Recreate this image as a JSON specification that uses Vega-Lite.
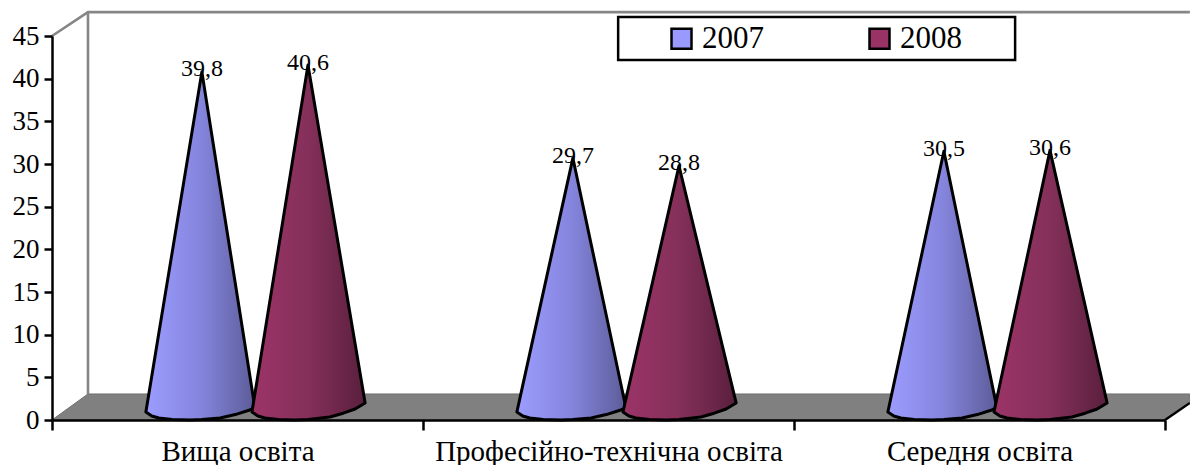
{
"$schema":"https://vega.github.io/schema/vega-lite/v6.json",
"width":1113,"height":384,
"autosize":{"type":"none"},
"padding":{"left":52,"top":36,"right":25,"bottom":45},
"background":"white",
"config":{"view":{"stroke":null},"font":"Liberation Serif"},
"datasets":{
"values":[
{"category":"Вища освіта","year":"2007","pos":0.404,"value":39.8},
{"category":"Вища освіта","year":"2008","pos":0.690,"value":40.6},
{"category":"Професійно-технічна освіта","year":"2007","pos":1.404,"value":29.7},
{"category":"Професійно-технічна освіта","year":"2008","pos":1.690,"value":28.8},
{"category":"Середня освіта","year":"2007","pos":2.404,"value":30.5},
{"category":"Середня освіта","year":"2008","pos":2.690,"value":30.6}
],
"blue":[
{"c":"a","p":0.253,"t":-0.06,"b":-0.06},{"c":"a","p":0.269,"t":4.17,"b":-0.52},{"c":"a","p":0.288,"t":9.19,"b":-0.76},{"c":"a","p":0.324,"t":18.67,"b":-0.93},{"c":"a","p":0.372,"t":31.35,"b":-1.0},{"c":"a","p":0.404,"t":39.8,"b":-0.95},{"c":"a","p":0.453,"t":26.29,"b":-0.76},{"c":"a","p":0.494,"t":15.02,"b":-0.36},{"c":"a","p":0.533,"t":4.27,"b":0.18},{"c":"a","p":0.547,"t":0.41,"b":0.41},
{"c":"b","p":1.253,"t":-0.06,"b":-0.06},{"c":"b","p":1.269,"t":3.09,"b":-0.52},{"c":"b","p":1.288,"t":6.84,"b":-0.76},{"c":"b","p":1.324,"t":13.93,"b":-0.93},{"c":"b","p":1.372,"t":23.39,"b":-1.0},{"c":"b","p":1.404,"t":29.7,"b":-0.95},{"c":"b","p":1.453,"t":19.65,"b":-0.76},{"c":"b","p":1.494,"t":11.28,"b":-0.36},{"c":"b","p":1.533,"t":3.28,"b":0.18},{"c":"b","p":1.547,"t":0.41,"b":0.41},
{"c":"c","p":2.253,"t":-0.06,"b":-0.06},{"c":"c","p":2.269,"t":3.18,"b":-0.52},{"c":"c","p":2.288,"t":7.03,"b":-0.76},{"c":"c","p":2.324,"t":14.30,"b":-0.93},{"c":"c","p":2.372,"t":24.02,"b":-1.0},{"c":"c","p":2.404,"t":30.5,"b":-0.95},{"c":"c","p":2.453,"t":20.18,"b":-0.76},{"c":"c","p":2.494,"t":11.57,"b":-0.36},{"c":"c","p":2.533,"t":3.36,"b":0.18},{"c":"c","p":2.547,"t":0.41,"b":0.41}
],
"red":[
{"c":"a","p":0.539,"t":-0.06,"b":-0.06},{"c":"a","p":0.555,"t":4.25,"b":-0.52},{"c":"a","p":0.574,"t":9.37,"b":-0.76},{"c":"a","p":0.610,"t":19.05,"b":-0.93},{"c":"a","p":0.655,"t":31.17,"b":-1.0},{"c":"a","p":0.690,"t":40.6,"b":-0.95},{"c":"a","p":0.749,"t":25.43,"b":-0.64},{"c":"a","p":0.785,"t":16.17,"b":-0.2},{"c":"a","p":0.817,"t":7.93,"b":0.29},{"c":"a","p":0.844,"t":1.0,"b":1.0},
{"c":"b","p":1.539,"t":-0.06,"b":-0.06},{"c":"b","p":1.555,"t":3.0,"b":-0.52},{"c":"b","p":1.574,"t":6.64,"b":-0.76},{"c":"b","p":1.610,"t":13.50,"b":-0.93},{"c":"b","p":1.655,"t":22.10,"b":-1.0},{"c":"b","p":1.690,"t":28.8,"b":-0.95},{"c":"b","p":1.749,"t":18.15,"b":-0.64},{"c":"b","p":1.785,"t":11.65,"b":-0.2},{"c":"b","p":1.817,"t":5.87,"b":0.29},{"c":"b","p":1.844,"t":1.0,"b":1.0},
{"c":"c","p":2.539,"t":-0.06,"b":-0.06},{"c":"c","p":2.555,"t":3.19,"b":-0.52},{"c":"c","p":2.574,"t":7.05,"b":-0.76},{"c":"c","p":2.610,"t":14.35,"b":-0.93},{"c":"c","p":2.655,"t":23.49,"b":-1.0},{"c":"c","p":2.690,"t":30.6,"b":-0.95},{"c":"c","p":2.749,"t":19.26,"b":-0.64},{"c":"c","p":2.785,"t":12.34,"b":-0.2},{"c":"c","p":2.817,"t":6.18,"b":0.29},{"c":"c","p":2.844,"t":1.0,"b":1.0}
],
"floor":[
{"p":0,"t":0,"b":0},{"p":0.097,"t":3.05,"b":0},{"p":3,"t":3.05,"b":0},{"p":3.067,"t":3.05,"b":2.0}
],
"walls":[
{"g":"top","i":1,"p":0,"v":45},{"g":"top","i":2,"p":0.097,"v":47.8},{"g":"top","i":3,"p":3.067,"v":47.8},
{"g":"back","i":1,"p":0.097,"v":47.8},{"g":"back","i":2,"p":0.097,"v":3.05}
],
"edge":[{"p":3,"v":0},{"p":3.067,"v":2.0}],
"box":[{"p1":1.526,"p2":2.596,"v1":47.23,"v2":42.19}]
},
"layer":[
{"data":{"name":"floor"},"mark":{"type":"area","fill":"#808080","stroke":"#6e6e6e","strokeWidth":1},
 "encoding":{
 "x":{"field":"p","type":"quantitative","scale":{"domain":[0,3],"nice":false},
  "axis":{"title":null,"values":[0,0.5,1,1.5,2,2.5,3],"grid":false,"zindex":1,"domainColor":"black","domainWidth":2.5,"tickColor":"black","tickWidth":2.5,"tickSize":10,"tickOpacity":{"expr":"datum.value%1==0?1:0"},
  "labelExpr":"datum.value==0.5?'Вища освіта':datum.value==1.5?'Професійно-технічна освіта':datum.value==2.5?'Середня освіта':''","labelFont":"Liberation Serif","labelFontSize":29,"labelColor":"black","labelPadding":7,"labelFlush":false,"labelOverlap":false,"labelBound":false,"labelLimit":600}},
 "y":{"field":"t","type":"quantitative","scale":{"domain":[0,45],"nice":false},
  "axis":{"title":null,"values":[0,5,10,15,20,25,30,35,40,45],"grid":false,"zindex":1,"domainColor":"black","domainWidth":2.5,"tickColor":"black","tickWidth":2.5,"tickSize":8,"labelFont":"Liberation Serif","labelFontSize":27,"labelColor":"black","labelPadding":5,"labelOverlap":false,"labelBound":false,"labelFlush":false}},
 "y2":{"field":"b"}}},
{"data":{"name":"walls"},"mark":{"type":"line","color":"#868686","strokeWidth":2.6},
 "encoding":{"x":{"field":"p","type":"quantitative"},"y":{"field":"v","type":"quantitative"},"detail":{"field":"g"},"order":{"field":"i"}}},
{"data":{"name":"edge"},"mark":{"type":"line","color":"black","strokeWidth":2.5},
 "encoding":{"x":{"field":"p","type":"quantitative"},"y":{"field":"v","type":"quantitative"}}},
{"data":{"name":"box"},"mark":{"type":"rect","fill":"white","stroke":"black","strokeWidth":2.5},
 "encoding":{"x":{"field":"p1","type":"quantitative"},"x2":{"field":"p2"},"y":{"field":"v1","type":"quantitative"},"y2":{"field":"v2"}}},
{"data":{"name":"values"},"mark":{"type":"point","filled":true,"size":0,"shape":"square"},
 "encoding":{"x":{"field":"pos","type":"quantitative"},"y":{"field":"value","type":"quantitative"},
 "color":{"field":"year","type":"nominal","scale":{"domain":["2007","2008"],"range":["#9999ff","#993366"]},
  "legend":{"title":null,"orient":"none","legendX":608,"legendY":-19,"direction":"horizontal","columns":2,"columnPadding":100,"symbolType":"square","symbolSize":400,"symbolStrokeColor":"black","symbolStrokeWidth":2.5,"symbolOpacity":1,"labelFont":"Liberation Serif","labelFontSize":31,"labelColor":"black","labelOffset":5,"padding":6,"cornerRadius":0}}}},
{"data":{"name":"blue"},"mark":{"type":"area","stroke":"black","strokeWidth":3,"strokeJoin":"round","yOffset":-8.5,"y2Offset":-8.5,
  "fill":{"gradient":"linear","x1":0,"y1":0,"x2":1,"y2":0,"stops":[{"offset":0,"color":"#9c9cff"},{"offset":0.5,"color":"#8585de"},{"offset":1,"color":"#5c5c99"}]}},
 "encoding":{"x":{"field":"p","type":"quantitative"},"y":{"field":"t","type":"quantitative"},"y2":{"field":"b"},"detail":{"field":"c"}}},
{"data":{"name":"red"},"mark":{"type":"area","stroke":"black","strokeWidth":3,"strokeJoin":"round","yOffset":-8.5,"y2Offset":-8.5,
  "fill":{"gradient":"linear","x1":0,"y1":0,"x2":1,"y2":0,"stops":[{"offset":0,"color":"#9c3468"},{"offset":0.5,"color":"#84305a"},{"offset":1,"color":"#5a1f3d"}]}},
 "encoding":{"x":{"field":"p","type":"quantitative"},"y":{"field":"t","type":"quantitative"},"y2":{"field":"b"},"detail":{"field":"c"}}},
{"data":{"name":"values"},"mark":{"type":"text","font":"Liberation Serif","fontSize":24,"color":"black","baseline":"middle","align":"center","yOffset":-11},
 "encoding":{"x":{"field":"pos","type":"quantitative"},"y":{"field":"value","type":"quantitative"},"text":{"field":"label"}},
 "transform":[{"calculate":"replace(format(datum.value,'.1f'),'.',',')","as":"label"}]}
]
}
